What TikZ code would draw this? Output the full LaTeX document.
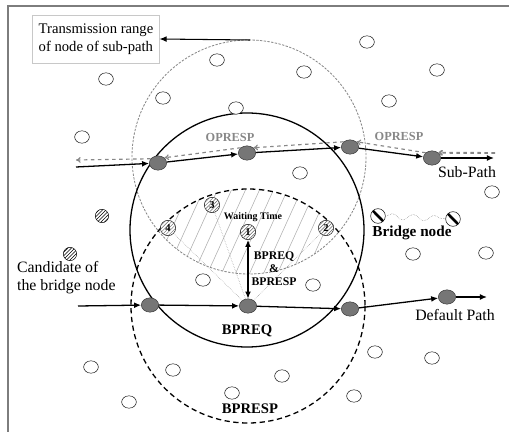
\documentclass[tikz,border=0pt]{standalone}
\usepackage{fontspec}
\setmainfont{Liberation Serif}
\usepackage{xcolor}
\usetikzlibrary{shapes,arrows.meta,positioning,patterns,decorations.pathmorphing}
\definecolor{framegray}{RGB}{125,125,125}
\definecolor{nodegray}{RGB}{118,118,118}
\definecolor{msggray}{RGB}{135,135,135}
\definecolor{boxgray}{RGB}{200,200,200}

\tikzset{
    opennode/.style={draw, ellipse, fill=white, minimum width=0.44cm, minimum height=0.37cm, inner sep=0pt},
    pathnode/.style={draw=black!80, ellipse, fill=nodegray, minimum width=0.52cm, minimum height=0.43cm, inner sep=0pt},
    candnode/.style={draw, circle, minimum size=0.4cm, inner sep=0pt, pattern=north east lines},
    numnode/.style={draw, circle, fill=white, minimum size=0.46cm, inner sep=0pt,
        postaction={pattern=north east lines, pattern color=black!60},
        font=\bfseries\fontsize{9}{9}\selectfont},
    bridgenode/.style={draw, circle, fill=white, minimum size=0.44cm, inner sep=0pt,
        path picture={\draw[line width=2.2pt]
            ([shift={(0.08,-0.08)}]path picture bounding box.north west) --
            ([shift={(-0.08,0.08)}]path picture bounding box.south east);}},
    patharrow/.style={-{Latex[length=6pt,width=5pt]}, line width=1.1pt},
    msgarrow/.style={-{To[length=4pt,width=5pt]}, msggray, dashed, line width=1pt},
    msglabel/.style={msggray, font=\bfseries\fontsize{10.5}{12}\selectfont},
    biglabel/.style={font=\fontsize{13.5}{15.5}\selectfont}
}

\begin{document}
\begin{tikzpicture}[x=0.03cm, y=-0.03cm]
    \useasboundingbox (0,0) rectangle (509,432);
    % Frame
    \draw[framegray, line width=2pt] (8,432) -- (8,6) -- (509,6);

    % Overlap of the two ranges
    \begin{scope}
        \clip (249,157) circle [radius=117];
        \clip (248,306) circle [radius=117];
        \foreach \i in {60,74,...,400}
            \draw[black!30, line width=0.5pt] (\i,290) -- ++(50,-110);
    \end{scope}

    % Ranges
    \draw[msggray, dash pattern=on 2pt off 1.2pt, line width=0.7pt] (249,157) circle [radius=117];
    \draw[line width=1.1pt] (247,230) circle [radius=117];
    \draw[dash pattern=on 4.5pt off 3pt, line width=1.1pt] (248,306) circle [radius=117];

    % Other nodes
    \foreach \x/\y [count=\k] in {217/60, 106/79, 163/98, 236/108, 82/137, 367/42, 304/72, 437/70,
        389/101, 300/173, 492/192, 413/254, 486/253, 203/280, 313/285, 91/367, 173/370,
        129/402, 232/393, 375/352, 432/358, 282/376, 354/396}
        \node[opennode] (open\k) at (\x,\y) {};

    % Range label
    \node[draw=boxgray, align=left, minimum width=3.8cm, minimum height=1.44cm,
        font=\fontsize{12.5}{15}\selectfont] (rangebox) at (96,39) {Transmission range\\of node of sub-path};
    \coordinate (rangetop) at (250,40);
    \draw[-{Latex[length=6pt,width=5pt]}, line width=0.9pt] (rangetop) -- (rangebox.east);

    % Sub-path
    \coordinate (subin) at (76,167);
    \coordinate (subout) at (494,158);
    \coordinate (subleft) at (76,160);
    \coordinate (subright) at (495,153);
    \node[pathnode] (s1) at (158,163) {};
    \node[pathnode] (s2) at (247,153) {};
    \node[pathnode] (s3) at (350,147) {};
    \node[pathnode] (s4) at (432,158) {};
    \draw[patharrow] (subin) -- (s1);
    \draw[patharrow] (s1) -- (s2);
    \draw[patharrow] (s2) -- (s3);
    \draw[patharrow] (s3) -- (s4);
    \draw[patharrow] (s4) -- (subout);
    \draw[msgarrow] (s1.150) -- (subleft);
    \draw[msgarrow] (s2.north west) -- (s1.north east);
    \draw[msgarrow] (s3.north west) -- (s2.north east);
    \draw[msgarrow] (s4.north west) -- (s3.north east);
    \draw[msgarrow, line width=1.6pt] (subright) -- (s4.north east);
    \node[msglabel] (opresp1) at (230,137) {OPRESP};
    \node[msglabel] (opresp2) at (399,136) {OPRESP};
    \node[biglabel] (sublabel) at (467,172) {Sub-Path};

    % Default path
    \coordinate (defin) at (78,306);
    \coordinate (defout) at (487,297);
    \node[pathnode] (d1) at (150,305) {};
    \node[pathnode] (d2) at (248,306) {};
    \node[pathnode] (d3) at (350,309) {};
    \node[pathnode] (d4) at (447,297) {};
    \draw[patharrow] (defin) -- (d1);
    \draw[patharrow] (d1) -- (d2);
    \draw[patharrow] (d2) -- (d3);
    \draw[patharrow] (d3) -- (d4);
    \draw[patharrow] (d4) -- (defout);
    \node[biglabel] (deflabel) at (455,315) {Default Path};

    % Waiting nodes
    \node[numnode] (w1) at (248,232) {1};
    \node[numnode] (w2) at (326,228) {2};
    \node[numnode] (w3) at (212,205) {3};
    \node[numnode] (w4) at (168,228) {4};
    \draw[msggray, densely dotted] (d2) -- (w2);
    \draw[msggray, densely dotted] (d2) -- (w3);
    \draw[msggray, densely dotted] (d2) -- (w4);
    \draw[{Latex[length=6pt,width=5pt]}-{Latex[length=6pt,width=5pt]}, line width=1pt] (w1) -- (d2);
    \node[font=\bfseries\fontsize{8.5}{10}\selectfont] (waitlabel) at (253,217) {Waiting Time};
    \node[align=center, font=\bfseries\fontsize{10}{11}\selectfont] (reqresp) at (274,269) {BPREQ\\\&\\BPRESP};

    % Bridge nodes
    \node[bridgenode] (b1) at (378,216) {};
    \node[bridgenode] (b2) at (453,219) {};
    \draw[msggray!80!black, densely dotted, decorate, decoration={snake, amplitude=2.5pt, segment length=18pt}] (b1) -- (b2);
    \node[font=\bfseries\fontsize{13}{15}\selectfont] (bridgelabel) at (412,233) {Bridge node};

    % Candidates
    \node[candnode] (c1) at (102,216) {};
    \node[candnode] (c2) at (70,254) {};
    \node[align=left, anchor=west, biglabel] (candlabel) at (13,278) {Candidate of\\the bridge node};

    % Range names
    \node[font=\bfseries\fontsize{12.5}{14}\selectfont] (bpreq) at (247,331) {BPREQ};
    \node[font=\bfseries\fontsize{12.5}{14}\selectfont] (bpresp) at (250,409) {BPRESP};
\end{tikzpicture}
\end{document}
